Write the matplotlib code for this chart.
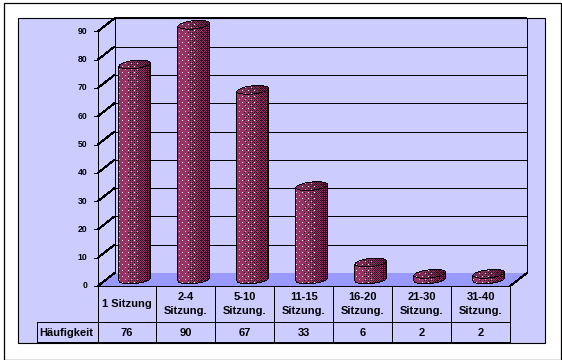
import numpy as np
import matplotlib
matplotlib.use('Agg')
import matplotlib.pyplot as plt
from matplotlib.patches import Polygon, Rectangle
from matplotlib.transforms import Affine2D

categories = ['1 Sitzung', '2-4\nSitzung.', '5-10\nSitzung.', '11-15\nSitzung.',
              '16-20\nSitzung.', '21-30\nSitzung.', '31-40\nSitzung.']
values = [76, 90, 67, 33, 6, 2, 2]
value_labels = ['76', '90', '67', '33', '6', '2', '2']
row_label = 'Häufigkeit'
y_ticks = [0, 10, 20, 30, 40, 50, 60, 70, 80, 90]

W, H = 562, 360
PX_X = 59.0     # pixels per category
PX_Y = 2.83     # pixels per unit of value
X0 = 126.75     # pixel of category 0
Y0 = 286.0      # pixel of value 0
LAV = '#CCCCFF'
FLOOR = '#9999FF'

plt.rcParams['font.family'] = ['Liberation Sans', 'DejaVu Sans']

fig = plt.figure(figsize=(W / 100, H / 100), dpi=100)
ax = fig.add_axes([0, 0, 1, 1])
ax.axis('off')
ax.set_xlim(-X0 / PX_X, (W - X0) / PX_X)
ax.set_ylim((Y0 - H) / PX_Y, Y0 / PX_Y)

# page furniture is placed in pixels
px = Affine2D().scale(1, -1).translate(0, H)


def seg(x1, y1, x2, y2, lw=1.0, z=3):
    ax.plot([x1, x2], [y1, y2], color='black', lw=lw * 0.72, transform=px,
            antialiased=False, solid_capstyle='butt', zorder=z, clip_on=False)


def x_data(p):
    return (p - X0) / PX_X


def y_data(p):
    return (Y0 - p) / PX_Y


ax.add_patch(Rectangle((3.5, 2.5), 557, 357, fc='white', ec='black', lw=0.9, transform=px, zorder=0))
ax.add_patch(Rectangle((17.5, 17.5), 527, 325, fc=LAV, ec='black', lw=0.8, transform=px, zorder=1))
ax.add_patch(Polygon([(98, 286), (510, 286), (527, 273), (114.5, 273)], fc=FLOOR, ec='none',
                     transform=px, zorder=1.5))

# walls
seg(114.5, 18, 114.5, 273)
seg(527, 18, 527, 273)
seg(114.5, 17.5, 527, 17.5, lw=2)
seg(98, 31, 98, 286)
seg(527, 273, 510, 286)

for v in y_ticks:
    yf = Y0 - v * PX_Y
    yb = yf - 13
    if v > 0:
        seg(114.5, yb, 527, yb)
    seg(98, yf, 114.5, yb)
    seg(94, yf, 98, yf)
    ax.text(x_data(87.5), v, str(v), ha='right', va='center', fontsize=6.2,
            fontweight='bold', color='black', zorder=4)

BAYER = np.array([[0, 8, 2, 10], [12, 4, 14, 6], [3, 11, 1, 9], [15, 7, 13, 5]]) / 16
BASE = np.array([0x99, 0x33, 0x66]) / 255
DARK = np.array([0x33, 0x11, 0x22]) / 255


def edge(mask):
    # pixels of the mask that touch the outside
    p = np.pad(mask, 1)
    inner = p[:-2, 1:-1] & p[2:, 1:-1] & p[1:-1, :-2] & p[1:-1, 2:]
    return mask & ~inner


def cylinder_image(xc, yc_top, yc_base, a=16.3, b=4.6, k=1.6):
    # aliased cylinder in pixel space, y running down
    left = int(np.floor(xc - a)) - 1
    top = int(np.floor(yc_top - b - k)) - 1
    w = int(np.ceil(2 * a)) + 3
    h = int(np.ceil(yc_base + b + k)) + 2 - top
    xx, yy = np.meshgrid(np.arange(w) + left + 0.5, np.arange(h) + top + 0.5)
    u = (xx - xc) / a
    lid = u ** 2 + ((yy - yc_top + k * u) / b) ** 2 <= 1
    foot = u ** 2 + ((yy - yc_base + k * u) / b) ** 2 <= 1
    side = (np.abs(u) <= 1) & (yy >= yc_top - k * u) & (yy <= yc_base - k * u)
    shape = lid | foot | side

    t = (u + 1) / 2
    rows = yy.astype(int)
    cols = xx.astype(int)
    dark = BAYER[rows % 4, cols % 4] < (t - 0.22)
    img = np.zeros((h, w, 4))
    img[..., :3] = BASE
    img[dark, :3] = DARK
    img[lid & ~dark, :3] = BASE * 0.85
    sel = (t < 0.6) & (rows % 6 == 0) & (cols % 6 == 2)
    img[sel, :3] = 1.0
    sel = (t < 0.6) & (rows % 6 == 3) & (cols % 6 == 5)
    img[sel, :3] = (0.8, 0.8, 1.0)
    img[..., 3] = shape
    img[edge(shape), :3] = 0
    img[edge(lid), :3] = 0
    return img, left, top, h


depth_x = 8.0 / PX_X
depth_y = 6.5 / PX_Y

for i, v in enumerate(values):
    xc, ybase_up = ax.transData.transform((i + depth_x, depth_y))
    _, ytop_up = ax.transData.transform((i + depth_x, v + depth_y))
    img, left, top, h = cylinder_image(xc, H - ytop_up, H - ybase_up)
    fig.figimage(img, xo=left, yo=H - top - h, origin='upper', zorder=5)

# data table
col_edges = [98, 155.5, 215, 274, 332.5, 391.5, 450.5, 509.5]
seg(98, 286, 510, 286)
seg(36.5, 322, 510, 322)
seg(36.5, 342.5, 510, 342.5, lw=2)
seg(36.5, 322, 36.5, 343)
for x in col_edges:
    seg(x, 286, x, 342)

font = dict(fontsize=8.0, fontweight='bold', color='black', zorder=4)
for i, (c, lab) in enumerate(zip(categories, value_labels)):
    ax.text(i, y_data(304), c, ha='center', va='center', linespacing=1.55, **font)
    ax.text(i, y_data(333), lab, ha='center', va='center', **font)
ax.text(x_data(66.5), y_data(333), row_label, ha='center', va='center', **font)

fig.savefig('out.png', dpi=100)
